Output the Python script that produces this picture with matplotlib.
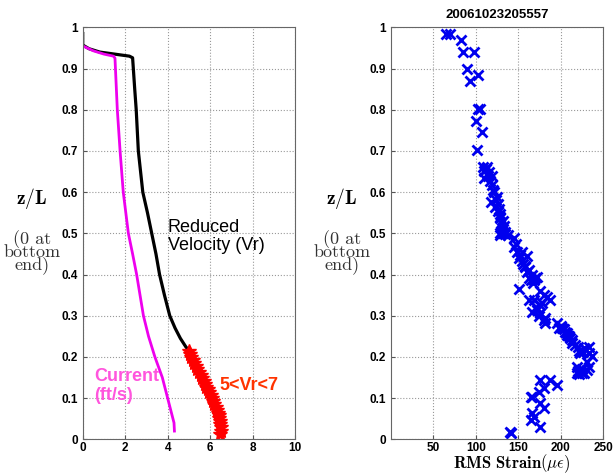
import matplotlib
matplotlib.use("Agg")
import matplotlib.pyplot as plt

plt.rcParams['mathtext.fontset'] = 'cm'
plt.rcParams['font.family'] = ['Liberation Sans', 'DejaVu Sans']

# left panel: velocity profiles
vr_x = [0.0, 0.0, 0.3, 0.8, 1.5, 2.2, 2.35, 2.45, 2.52, 2.62, 2.83, 3.05, 3.25, 3.45,
        3.62, 3.85, 4.1, 4.35, 4.6, 4.85, 5.0]
vr_z = [0.985, 0.957, 0.948, 0.940, 0.935, 0.930, 0.926, 0.85, 0.80, 0.70, 0.60, 0.55,
        0.50, 0.45, 0.40, 0.35, 0.30, 0.27, 0.245, 0.225, 0.215]

cur_x = [0.0, 0.5, 1.0, 1.45, 1.52, 1.63, 1.76, 1.91, 2.15, 2.35, 2.54, 2.7, 2.86,
         3.1, 3.4, 3.75, 4.0, 4.2, 4.3, 4.32]
cur_z = [0.955, 0.943, 0.935, 0.930, 0.925, 0.80, 0.70, 0.60, 0.50, 0.45, 0.40, 0.35,
         0.30, 0.25, 0.20, 0.15, 0.10, 0.06, 0.04, 0.02]

red_x = [5.0, 5.05, 5.1, 5.18, 5.25, 5.32, 5.4, 5.47, 5.55, 5.62, 5.7, 5.77, 5.83,
         5.9, 5.96, 6.02, 6.08, 6.14, 6.2, 6.26, 6.31, 6.36, 6.4, 6.43, 6.46, 6.48,
         6.5, 6.5, 6.48]
red_z = [0.215, 0.207, 0.20, 0.192, 0.185, 0.178, 0.17, 0.163, 0.156, 0.149, 0.142,
         0.135, 0.128, 0.121, 0.114, 0.107, 0.10, 0.093, 0.086, 0.079, 0.072, 0.065,
         0.058, 0.051, 0.044, 0.037, 0.030, 0.020, 0.012]

# right panel: RMS strain
strain = [64.5, 69.6, 82, 85, 97.8, 90, 103, 93, 102.5, 104.5, 100.5, 107.6, 101,
          108, 112, 116, 119.5, 110, 114, 119.4, 120, 125, 117.4, 126, 127, 128, 129,
          130, 131, 128, 129, 135, 145, 145, 149, 151, 154.7, 158.6, 162.5, 166, 164.5,
          168.5, 172.3, 150.7, 176.2, 180, 184, 188, 162.5, 168.5, 176, 172, 166, 176,
          180, 182, 196, 198, 202, 205.6, 208, 211.5, 213.5, 221, 227, 233, 223, 237,
          231, 219, 225, 231, 219, 225, 176.2, 188, 196, 180, 174, 166.5, 164.5, 176,
          180, 166.5, 168.5, 164.5, 176, 140, 138, 132, 155, 160,
          110, 113, 117, 122, 124, 123, 126, 129, 132, 133, 131, 134, 147, 152, 156,
          160, 163, 167, 170, 158, 171, 174, 178, 182, 200, 204, 207, 210, 214, 217,
          222, 226, 229, 234, 221, 228, 233, 222, 142]
zl = [0.983, 0.983, 0.969, 0.941, 0.941, 0.899, 0.884, 0.870, 0.801, 0.801, 0.773,
      0.745, 0.702, 0.662, 0.655, 0.648, 0.640, 0.634, 0.640, 0.617, 0.605, 0.589,
      0.577, 0.570, 0.560, 0.548, 0.536, 0.524, 0.512, 0.500, 0.496, 0.504, 0.488,
      0.467, 0.455, 0.439, 0.432, 0.419, 0.411, 0.399, 0.387, 0.387, 0.395, 0.366,
      0.361, 0.350, 0.346, 0.338, 0.338, 0.338, 0.326, 0.314, 0.310, 0.306, 0.290,
      0.282, 0.282, 0.269, 0.269, 0.261, 0.253, 0.245, 0.233, 0.225, 0.221, 0.223,
      0.209, 0.203, 0.188, 0.176, 0.170, 0.168, 0.161, 0.161, 0.144, 0.144, 0.132,
      0.124, 0.116, 0.103, 0.103, 0.087, 0.075, 0.063, 0.055, 0.047, 0.031, 0.018,
      0.496, 0.500, 0.455, 0.445,
      0.652, 0.660, 0.628, 0.600, 0.582, 0.565, 0.553, 0.540, 0.530, 0.518, 0.505,
      0.498, 0.475, 0.448, 0.425, 0.405, 0.392, 0.380, 0.392, 0.420, 0.320, 0.300,
      0.330, 0.295, 0.275, 0.268, 0.258, 0.250, 0.240, 0.228, 0.215, 0.212, 0.218,
      0.210, 0.165, 0.160, 0.175, 0.158, 0.016]

fig = plt.figure(figsize=(6.14, 4.76), dpi=100)
ax1 = fig.add_axes([0.1347, 0.0771, 0.3458, 0.8655])
ax2 = fig.add_axes([0.6368, 0.0771, 0.3453, 0.8655])

ax1.plot(vr_x, vr_z, color='black', lw=2.3)
ax1.plot(cur_x, cur_z, color='#ee00ee', lw=2)
ax1.plot(red_x, red_z, color='red', lw=0, marker='*', ms=10)
ax1.set_xlim(0, 10)
ax1.set_xticks([0, 2, 4, 6, 8, 10])

ax1.text(4.0, 0.535, 'Reduced\nVelocity (Vr)', fontsize=13, va='top', ha='left',
         linespacing=1.05)
ax1.text(0.53, 0.172, 'Current\n(ft/s)', fontsize=13, fontweight='bold',
         color='#ff55dd', va='top', ha='left', linespacing=1.1)
ax1.text(6.45, 0.13, '5<Vr<7', fontsize=13, fontweight='bold', color='#ff3300',
         va='center', ha='left')

ax2.plot(strain, zl, lw=0, marker='x', color='#0000ee', ms=6.5, mew=2)
ax2.set_xlim(0, 250)
ax2.set_xticks([50, 100, 150, 200, 250])
ax2.set_title('20061023205557', fontsize=9.5, fontweight='bold', pad=7)
ax2.set_xlabel(r'$\mathbf{RMS\ Strain}(\mu\epsilon)$', fontsize=12)
ax2.xaxis.set_label_coords(0.57, -0.071, transform=ax2.transAxes)
ax2.xaxis.label.set_va('baseline')

for ax in (ax1, ax2):
    ax.set_ylim(0, 1)
    ax.set_yticks([0, 0.1, 0.2, 0.3, 0.4, 0.5, 0.6, 0.7, 0.8, 0.9, 1])
    ax.set_yticklabels(['0', '0.1', '0.2', '0.3', '0.4', '0.5', '0.6', '0.7', '0.8',
                        '0.9', '1'])
    ax.grid(True, ls=':', color='#999999', lw=0.8)
    ax.tick_params(direction='in', labelsize=8.5, length=3, color='#555555')
    ax.tick_params(axis='x', pad=2)
    for lbl in ax.get_xticklabels() + ax.get_yticklabels():
        lbl.set_fontweight('bold')
    for sp in ax.spines.values():
        sp.set_color('#666666')

for xc in (0.052, 0.5565):
    fig.text(xc, 0.584, r'$\mathbf{z/L}$', fontsize=14, ha='center', va='center')
    fig.text(xc, 0.471, '(0 at\nbottom\nend)', fontsize=13, family='cmr10',
             ha='center', va='center', linespacing=0.72, color='#333333')

fig.savefig('out.png', dpi=100)
